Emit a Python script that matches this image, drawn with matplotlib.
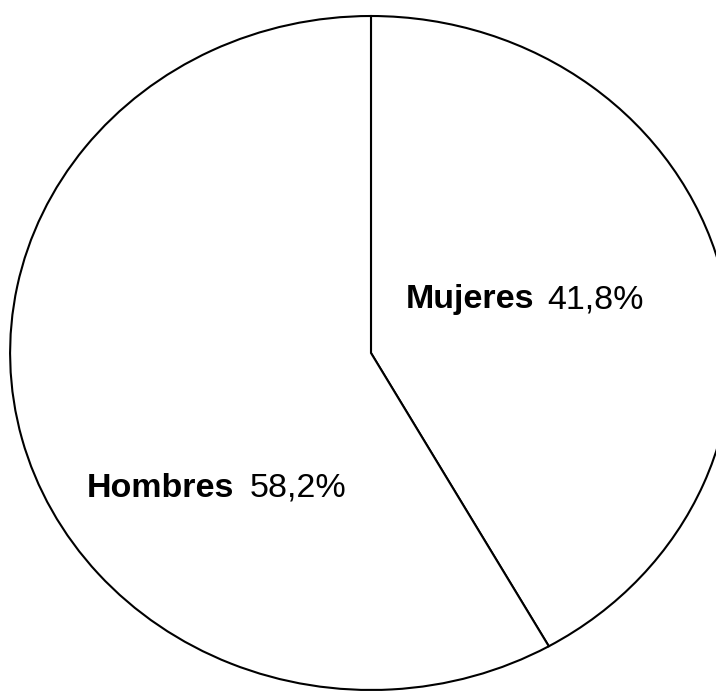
import matplotlib
matplotlib.use("Agg")
import matplotlib.pyplot as plt

# data
labels = ["Mujeres", "Hombres"]
shares = [41.8, 58.2]
pct_text = ["41,8%", "58,2%"]

plt.rcParams["font.family"] = ["Liberation Sans", "DejaVu Sans"]

fig = plt.figure(figsize=(7.16, 6.91), dpi=100)
ax = fig.add_axes([0, 0, 1, 1])

# clockwise from 12 o'clock, Mujeres first
ax.pie(
    shares,
    startangle=90,
    counterclock=False,
    colors=["white", "white"],
    wedgeprops=dict(edgecolor="black", linewidth=1.5),
    normalize=True,
)
ax.set_aspect("auto")
# circle squeezed a little vertically and cut off at the right like the scan
ax.set_xlim(-1.028, 0.956)
ax.set_ylim(-1.003, 1.0475)
ax.axis("off")

# label positions (axes fraction): bold name, then plain percentage
name_pos = [(0.566, 0.554), (0.121, 0.281)]
pct_pos = [(0.765, 0.554), (0.349, 0.281)]
for name, pct, (nx, ny), (px, py) in zip(labels, pct_text, name_pos, pct_pos):
    ax.text(nx, ny, name, transform=ax.transAxes, fontsize=24.5,
            fontweight="bold", va="baseline", ha="left")
    ax.text(px, py, pct, transform=ax.transAxes, fontsize=24.5,
            va="baseline", ha="left")

fig.savefig("out.png", dpi=100, facecolor="white")
